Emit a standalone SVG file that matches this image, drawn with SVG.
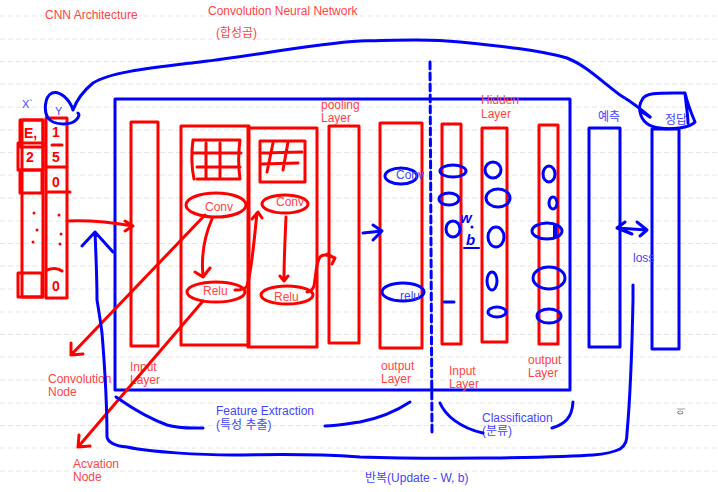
<svg xmlns="http://www.w3.org/2000/svg" width="718" height="492" viewBox="0 0 718 492">
<defs>
<style>
.bg{stroke:#e6e6e6;stroke-width:1;stroke-dasharray:5 3}
.r{fill:none;stroke:#ff0000;stroke-width:3;stroke-linecap:round;stroke-linejoin:round}
.b{fill:none;stroke:#0000ff;stroke-width:3;stroke-linecap:round;stroke-linejoin:round}
.rt{font-family:"Liberation Sans","Noto Sans CJK KR",sans-serif;font-size:12px;fill:#ff4444}
.bt{font-family:"Liberation Sans","Noto Sans CJK KR",sans-serif;font-size:12px;fill:#4444ff}
.hw{font-family:"Liberation Sans",sans-serif;font-size:14px;font-weight:bold;fill:#ff0000}
.hb{font-family:"Liberation Sans",sans-serif;font-size:15px;font-weight:bold;font-style:italic;fill:#0000ff}
</style>
</defs>
<rect width="718" height="492" fill="#ffffff"/>
<g id="background-lines">
<line class="bg" x1="0" y1="16" x2="718" y2="16"/>
<line class="bg" x1="0" y1="39" x2="718" y2="39"/>
<line class="bg" x1="0" y1="61.5" x2="718" y2="61.5"/>
<line class="bg" x1="0" y1="84" x2="718" y2="84"/>
<line class="bg" x1="0" y1="107" x2="718" y2="107"/>
<line class="bg" x1="0" y1="130" x2="718" y2="130"/>
<line class="bg" x1="0" y1="152.5" x2="718" y2="152.5"/>
<line class="bg" x1="0" y1="175" x2="718" y2="175"/>
<line class="bg" x1="0" y1="198" x2="718" y2="198"/>
<line class="bg" x1="0" y1="221" x2="718" y2="221"/>
<line class="bg" x1="0" y1="243.5" x2="718" y2="243.5"/>
<line class="bg" x1="0" y1="266" x2="718" y2="266"/>
<line class="bg" x1="0" y1="289" x2="718" y2="289"/>
<line class="bg" x1="0" y1="312" x2="718" y2="312"/>
<line class="bg" x1="0" y1="334.5" x2="718" y2="334.5"/>
<line class="bg" x1="0" y1="357" x2="718" y2="357"/>
<line class="bg" x1="0" y1="380" x2="718" y2="380"/>
<line class="bg" x1="0" y1="403" x2="718" y2="403"/>
<line class="bg" x1="0" y1="425.5" x2="718" y2="425.5"/>
<line class="bg" x1="0" y1="448" x2="718" y2="448"/>
<line class="bg" x1="0" y1="471" x2="718" y2="471"/>
</g>

<g id="titles">
<text class="rt" x="45" y="19">CNN Architecture</text>
<text class="rt" x="208" y="15">Convolution Neural Network</text>
<text class="rt" x="216" y="37">(합성곱)</text>
</g>

<g id="cnn-box">
<rect class="b" x="115" y="99" width="455" height="291"/>
</g>

<g id="data-columns">
<text class="bt" x="22" y="108" style="font-size:11px">X`</text>
<text class="bt" x="55" y="115" style="font-size:11px">Y</text>
<rect class="r" x="22" y="120" width="21" height="177"/>
<rect class="r" x="20" y="120" width="23" height="27"/>
<rect class="r" x="18" y="143" width="25" height="27"/>
<rect class="r" x="20" y="170" width="22" height="23"/>
<rect class="r" x="18" y="273" width="24" height="24"/>
<rect class="r" x="46" y="118" width="21" height="180"/>
<path class="r" d="M52,145 L62,145 M46,167 L67,167 M46,192 L70,192 M47,270 C52,268 58,268 62,271"/>
<text class="hw" x="24" y="138">E,</text>
<text class="hw" x="26" y="162">2</text>
<text class="hw" x="52" y="137">1</text>
<text class="hw" x="52" y="162">5</text>
<text class="hw" x="52" y="187">0</text>
<text class="hw" x="52" y="291">0</text>
<g fill="#ff0000">
<circle cx="34" cy="213" r="1.5"/><circle cx="37" cy="230" r="1.5"/><circle cx="33" cy="242" r="1.5"/>
<circle cx="59" cy="215" r="1.5"/><circle cx="61" cy="234" r="1.5"/><circle cx="60" cy="244" r="1.5"/>
</g>
</g>

<g id="input-layer">
<rect class="r" x="131" y="122" width="27" height="224"/>
<text class="rt" x="130" y="371">Input</text>
<text class="rt" x="130" y="384">Layer</text>
</g>

<g id="conv-block-1">
<rect class="r" x="181" y="126" width="68" height="219"/>
<path class="r" d="M193,140 L240,140 M193,140 C191,155 191,165 194,179 M240,140 C238,155 238,165 240,179 M197,179 L238,179 M206,143 L206,178 M220,143 L220,178 M192,153 L241,153 M197,167 L240,167"/>
<ellipse class="r" cx="216" cy="205" rx="30" ry="12"/>
<text class="rt" x="205" y="211">Conv</text>
<ellipse class="r" cx="216" cy="292" rx="29" ry="10"/>
<text class="rt" x="203" y="295">Relu</text>
</g>

<g id="conv-block-2">
<rect class="r" x="248" y="128" width="69" height="219"/>
<rect class="r" x="260" y="141" width="45" height="41"/>
<path class="r" d="M273,143 L267,172 M288,142 L283,170 M262,153 L302,152 M262,164 L298,163"/>
<ellipse class="r" cx="285" cy="204" rx="23" ry="9"/>
<text class="rt" x="276" y="206">Conv</text>
<ellipse class="r" cx="287" cy="295" rx="26" ry="9"/>
<text class="rt" x="274" y="301">Relu</text>
</g>

<g id="pooling-layer">
<rect class="r" x="329" y="126" width="30" height="217"/>
<text class="rt" x="321" y="109">pooling</text>
<text class="rt" x="321" y="122">Layer</text>
</g>

<g id="output-layer-1">
<rect class="r" x="380" y="123" width="42" height="225"/>
<ellipse class="b" cx="401" cy="176" rx="16" ry="8"/>
<text class="bt" x="396" y="179">Conv</text>
<ellipse class="b" cx="403" cy="292" rx="21" ry="9"/>
<text class="bt" x="400" y="300">relu</text>
<text class="rt" x="381" y="370">output</text>
<text class="rt" x="381" y="383">Layer</text>
</g>

<g id="fc-input-layer">
<rect class="r" x="442" y="124" width="19" height="220"/>
<ellipse class="b" cx="453" cy="171" rx="13" ry="6"/>
<ellipse class="b" cx="449" cy="199" rx="10" ry="6"/>
<ellipse class="b" cx="453" cy="229" rx="7" ry="8"/>
<path class="b" d="M444,302 L454,302"/>
<text class="rt" x="449" y="375">Input</text>
<text class="rt" x="449" y="388">Layer</text>
</g>

<g id="weights">
<text class="hb" x="460" y="223">w</text>
<circle cx="472" cy="227" r="1.5" fill="#0000ff"/>
<text class="hb" x="466" y="245">b</text>
<path class="b" d="M464,248 L479,248" style="stroke-width:2"/>
</g>

<g id="hidden-layer">
<rect class="r" x="482" y="128" width="25" height="214"/>
<circle class="b" cx="493" cy="170" r="8"/>
<ellipse class="b" cx="498" cy="198" rx="12" ry="9"/>
<ellipse class="b" cx="496" cy="237" rx="8" ry="10"/>
<ellipse class="b" cx="492" cy="281" rx="5" ry="9"/>
<ellipse class="b" cx="497" cy="312" rx="9" ry="5"/>
<text class="rt" x="481" y="104">Hidden</text>
<text class="rt" x="481" y="118">Layer</text>
</g>

<g id="fc-output-layer">
<rect class="r" x="539" y="125" width="19" height="219"/>
<ellipse class="b" cx="549" cy="174" rx="6" ry="8"/>
<ellipse class="b" cx="553" cy="203" rx="4" ry="6"/>
<ellipse class="b" cx="547" cy="231" rx="15" ry="8"/>
<rect x="553" y="225" width="4" height="13" fill="#0000ff"/>
<ellipse class="b" cx="549" cy="278" rx="16" ry="11"/>
<ellipse class="b" cx="549" cy="316" rx="12" ry="7"/>
<text class="rt" x="528" y="364">output</text>
<text class="rt" x="528" y="377">Layer</text>
</g>

<g id="prediction">
<rect class="b" x="589" y="128" width="31" height="219"/>
<text class="bt" x="598" y="121">예측</text>
</g>

<g id="answer">
<rect class="b" x="652" y="129" width="27" height="220"/>
<text class="bt" x="665" y="124">정답</text>
</g>

<g id="notes">
<text class="rt" x="48" y="383">Convolution</text>
<text class="rt" x="48" y="396">Node</text>
<text class="rt" x="73" y="468">Acvation</text>
<text class="rt" x="73" y="481">Node</text>
<text class="bt" x="216" y="415">Feature Extraction</text>
<text class="bt" x="216" y="429">(특성 추출)</text>
<text class="bt" x="482" y="422">Classification</text>
<text class="bt" x="482" y="435">(분류)</text>
<text class="bt" x="365" y="482">반복(Update - W, b)</text>
<text class="bt" x="633" y="262">loss</text>
<text x="680" y="413" transform="rotate(-90 683 412)" style="font-family:'Noto Sans CJK KR',sans-serif;font-size:8px;fill:#333">이</text>
</g>

<g id="connectors">
<path class="r" d="M67,221 C90,220 110,222 133,226 M125,221 L133,226 L125,231"/>
<path class="r" d="M212,219 C205,235 201,255 203,276 M195,272 L203,277 L210,268"/>
<path class="r" d="M235,290 C240,290 245,289 247,286 C252,270 254,240 257,213 M252,219 L258,212 L262,218"/>
<path class="r" d="M286,217 C285,240 284,260 284,280 M280,276 L284,281 L288,276"/>
<path class="r" d="M307,292 C311,291 313,289 314,286 C316,275 316,262 320,257 C324,253 329,256 335,258 M327,254 L335,258 L332,264"/>
<path class="r" d="M205,215 L71,355 M71,343 L71,355 L83,354"/>
<path class="r" d="M203,301 L78,447 M79,435 L78,447 L90,446"/>
<path class="b" d="M363,233 L382,231 M373,225 L382,231 L373,240"/>
<path class="b" d="M617,228 L647,230 M625,222 L617,228 L632,234 M637,222 L647,230 L640,236"/>
<path class="b" d="M430,62 L432,433" style="stroke-dasharray:7 4"/>
<path class="b" d="M116,397 C125,403 140,415 167,425 C180,429 192,428 203,428 M325,426 C340,426 350,423 360,422 C380,418 395,412 410,402"/>
<path class="b" d="M440,403 C445,415 460,428 483,433 M552,428 C565,424 572,418 573,402"/>
<path class="b" d="M82,246 L95,232 L113,252 M95,232 C96,255 97,290 97,300 C99,312 101,325 102,333 C105,370 107,410 107,437 C108,442 115,446 127,447 C150,452 200,455 233,455 C270,455 300,453 360,457 C420,459 480,458 500,458 C550,457 580,456 593,455 C605,454 614,452 620,449 C626,445 627,440 627,433 C630,400 632,350 633,300 L633,285"/>
<path class="b" d="M650,117 C642,110 630,101 620,95 C600,80 585,65 567,58 C540,50 500,46 460,42 C430,39 400,40 360,41 C310,44 260,55 200,62 C150,68 110,72 93,83 C82,92 76,102 73,110 C70,100 60,90 52,93 C44,97 44,112 48,118 C53,125 70,126 76,120 C79,117 80,115 78,113"/>
<path class="b" d="M642,100 C645,92 660,93 685,93 C688,105 692,115 695,122 C690,128 670,130 660,128 C650,127 642,122 640,112 C639,107 640,103 642,100 Z M685,93 C686,105 688,115 688,123 M642,112 L650,117"/>
</g>
</svg>
